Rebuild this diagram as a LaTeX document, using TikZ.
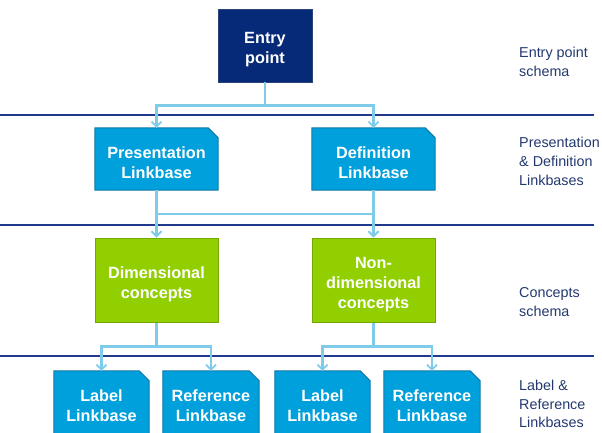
\documentclass[tikz,border=0pt]{standalone}
\usepackage{fontspec}
\setmainfont{Liberation Sans}
\usetikzlibrary{arrows.meta,backgrounds,calc}
\definecolor{navybox}{HTML}{062A78}
\definecolor{bluebox}{HTML}{00A0DC}
\definecolor{blueedge}{HTML}{1378A8}
\definecolor{greenbox}{HTML}{92CF00}
\definecolor{greenedge}{HTML}{72A800}
\definecolor{connc}{HTML}{7FCBEA}
\definecolor{sepc}{HTML}{1F3A8A}
\definecolor{labc}{HTML}{22386E}
\newcommand{\lowerstrut}{\rule{0pt}{20bp}}
\tikzset{
  boxtext/.style={text=white,font=\fontsize{16.3}{20}\selectfont\bfseries,align=center,inner sep=0pt},
  entrybox/.style={boxtext,fill=navybox,draw=navybox!70!gray,line width=0.8bp,minimum width=94bp,minimum height=73bp},
  bluenode/.style={boxtext},
  greenbox/.style={boxtext,fill=greenbox,draw=greenedge,line width=1bp,minimum width=123bp,minimum height=84bp},
  conn/.style={draw=connc,line width=2.2bp},
  arr/.style={conn,-{Straight Barb[length=5bp,width=10bp,line width=1.8bp]}},
  sepline/.style={draw=sepc,line width=2bp},
  sidelabel/.style={text=labc,font=\fontsize{14.4}{19}\selectfont,align=left,inner sep=0pt,anchor=north west},
}
\newcommand{\cutshape}[1]{%
  \path[fill=bluebox,draw=blueedge,line width=1bp]
    (#1.south west) -- (#1.north west) -- ([xshift=-10bp]#1.north east)
    -- ([yshift=-10bp]#1.north east) -- (#1.south east) -- cycle;}
\begin{document}
\begin{tikzpicture}[x=1bp,y=-1bp]
\useasboundingbox (0,0) rectangle (602,432);
\clip (0,0) rectangle (602,432);
% separators
\draw[sepline] (0,115) -- (594,115);
\draw[sepline] (0,225) -- (594,225);
\draw[sepline] (0,356) -- (594,356);
% nodes
\node[entrybox] (entry) at (265,45.5) {\lowerstrut Entry\\point};
\node[bluenode,minimum width=123bp,minimum height=62bp] (pres) at (156.5,159) {\lowerstrut Presentation\\Linkbase};
\node[bluenode,minimum width=123bp,minimum height=62bp] (def) at (373.5,159) {\lowerstrut Definition\\Linkbase};
\node[greenbox] (dim) at (156.5,280) {\lowerstrut Dimensional\\concepts};
\node[greenbox] (nondim) at (373.5,280) {\lowerstrut Non-\\dimensional\\concepts};
\node[bluenode,minimum width=95bp,minimum height=70bp] (l1) at (101.5,406) {Label\\Linkbase};
\node[bluenode,minimum width=96bp,minimum height=70bp] (r1) at (211,406) {Reference\\Linkbase};
\node[bluenode,minimum width=95bp,minimum height=70bp] (l2) at (322.5,406) {Label\\Linkbase};
\node[bluenode,minimum width=96bp,minimum height=70bp] (r2) at (432,406) {Reference\\Linkbase};
\begin{scope}[on background layer]
  \foreach \n in {pres,def,l1,r1,l2,r2} {\cutshape{\n}}
\end{scope}
% connectors
\coordinate (j1) at ($(entry.south)+(0,23)$);
\draw[conn] (entry) -- (j1);
\draw[arr] (j1) -| (pres);
\draw[arr] (j1) -| (def);
\draw[arr] (pres) -- (dim);
\draw[arr] (def) -- (nondim);
\coordinate (h1) at ($(pres.south)+(0,24)$);
\draw[conn] (h1) -- (h1 -| def);
\coordinate (j2) at ($(dim.south)+(0,24)$);
\draw[conn] (dim) -- (j2);
\draw[arr] (j2) -| (l1);
\draw[arr] (j2) -| (r1);
\coordinate (j3) at ($(nondim.south)+(0,24)$);
\draw[conn] (nondim) -- (j3);
\draw[arr] (j3) -| (l2);
\draw[arr] (j3) -| (r2);
% side labels
\node[sidelabel] (s1) at (519,46.7) {Entry point\\schema};
\node[sidelabel] (s2) at (519,136.7) {Presentation\\\& Definition\\Linkbases};
\node[sidelabel] (s3) at (519,287.5) {Concepts\\schema};
\node[sidelabel] (s4) at (519,379.5) {Label \&\\Reference\\Linkbases};
\end{tikzpicture}
\end{document}
